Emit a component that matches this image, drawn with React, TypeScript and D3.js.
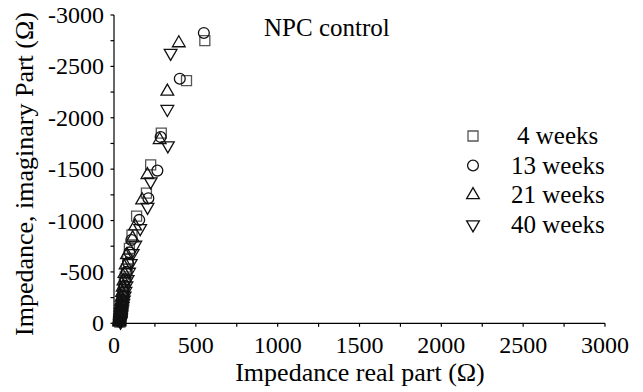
import React from "react";
import * as d3 from "d3";

const xTicks = [0, 500, 1000, 1500, 2000, 2500, 3000];
const xTickLabels = ["0", "500", "1000", "1500", "2000", "2500", "3000"];
const xMinorTicks = [250, 750, 1250, 1750, 2250, 2750];
const yTicks = [0, -500, -1000, -1500, -2000, -2500, -3000];
const yTickLabels = ["0", "-500", "-1000", "-1500", "-2000", "-2500", "-3000"];
const yMinorTicks = [-250, -750, -1250, -1750, -2250, -2750];

const seriesNames = ["4 weeks", "13 weeks", "21 weeks", "40 weeks"];

const weeks4Re = [555, 443, 289, 224, 198, 138, 110, 94, 84, 76, 69, 63, 58, 54, 51, 48, 46, 44, 42, 41, 40, 39, 38, 38, 37, 37, 36, 36];
const weeks4Im = [-2750, -2361, -1851, -1541, -1266, -1042, -860, -730, -622, -530, -452, -386, -330, -282, -240, -204, -173, -146, -123, -103, -86, -71, -58, -46, -36, -27, -19, -12];

const weeks13Re = [549, 402, 285, 265, 210, 154, 106, 95, 86, 78, 71, 65, 60, 56, 52, 49, 47, 45, 43, 42, 41, 40, 39, 38, 38, 37, 37];
const weeks13Im = [-2825, -2380, -1812, -1486, -1217, -1006, -811, -690, -588, -501, -427, -364, -310, -264, -225, -191, -162, -137, -116, -97, -81, -67, -54, -43, -33, -24, -16];

const weeks21Re = [396, 326, 279, 204, 172, 129, 114, 79, 71, 64, 58, 53, 49, 46, 43, 41, 39, 38, 37, 36, 35, 35, 34, 34, 33, 33, 33, 32];
const weeks21Im = [-2727, -2256, -1785, -1444, -1198, -945, -828, -665, -566, -482, -410, -349, -297, -252, -214, -182, -154, -130, -110, -92, -77, -63, -51, -41, -32, -24, -17, -11];

const weeks40Re = [346, 326, 329, 224, 205, 160, 130, 114, 102, 92, 83, 76, 70, 65, 60, 57, 54, 51, 49, 47, 46, 44, 43, 42, 41, 41, 40, 40];
const weeks40Im = [-2630, -2084, -1730, -1379, -1131, -925, -763, -682, -584, -500, -428, -366, -313, -268, -229, -196, -167, -142, -121, -102, -86, -72, -59, -48, -38, -29, -21, -14];

const FONT = "Liberation Serif";

type Series = { name: string; re: number[]; im: number[]; shape: string; color: string };

const series: Series[] = [
  { name: seriesNames[0], re: weeks4Re, im: weeks4Im, shape: "square", color: "#555" },
  { name: seriesNames[1], re: weeks13Re, im: weeks13Im, shape: "circle", color: "#111" },
  { name: seriesNames[2], re: weeks21Re, im: weeks21Im, shape: "up", color: "#111" },
  { name: seriesNames[3], re: weeks40Re, im: weeks40Im, shape: "down", color: "#111" },
];

function markerPath(shape: string): string {
  if (shape === "square") return d3.symbol(d3.symbolSquare, 100)() as string;
  if (shape === "circle") return d3.symbol(d3.symbolCircle, 92)() as string;
  return d3.symbol(d3.symbolTriangle, 70)() as string;
}

const tickStyle: React.CSSProperties = { fontFamily: FONT, fontSize: 24 };
const titleStyle: React.CSSProperties = { fontFamily: FONT, fontSize: 26 };
const noteStyle: React.CSSProperties = { fontFamily: FONT, fontSize: 25 };

export default function App() {
  const W = 643;
  const H = 392;
  const x = d3.scaleLinear().domain([0, 3000]).range([114, 605]);
  const y = d3.scaleLinear().domain([0, -3000]).range([323.3, 15]);
  const x0 = x(0);
  const y0 = y(0);
  const tickLen = 3.5;

  const legendX = 473;
  const legendTextX = 511;
  const legendY0 = 144;
  const legendDy = 29.5;

  return (
    <svg
      width={W}
      height={H}
      style={{ position: "absolute", left: 0, top: 0, background: "#fff" }}
    >
      <rect x={0} y={0} width={W} height={H} fill="#fff" />
      <line x1={x0} y1={y0} x2={x(3000)} y2={y0} stroke="#000" strokeWidth={1.2} />
      <line x1={x0} y1={y0} x2={x0} y2={y(-3000)} stroke="#000" strokeWidth={1.2} />
      {xTicks.map((t, i) => (
        <g key={"xt" + i}>
          <line x1={x(t)} x2={x(t)} y1={y0} y2={y0 + tickLen} stroke="#000" strokeWidth={1.2} />
          <text x={x(t)} y={353} style={tickStyle} textAnchor="middle" fill="#000">
            {xTickLabels[i]}
          </text>
        </g>
      ))}
      {xMinorTicks.map((t, i) => (
        <line key={"xm" + i} x1={x(t)} x2={x(t)} y1={y0} y2={y0 + tickLen} stroke="#000" strokeWidth={1.2} />
      ))}
      {yTicks.map((t, i) => (
        <g key={"yt" + i}>
          <line x1={x0 - tickLen} x2={x0} y1={y(t)} y2={y(t)} stroke="#000" strokeWidth={1.2} />
          <text x={104} y={y(t) + 8} style={tickStyle} textAnchor="end" fill="#000">
            {yTickLabels[i]}
          </text>
        </g>
      ))}
      {yMinorTicks.map((t, i) => (
        <line key={"ym" + i} x1={x0 - tickLen} x2={x0} y1={y(t)} y2={y(t)} stroke="#000" strokeWidth={1.2} />
      ))}
      <text x={360} y={381} style={titleStyle} textAnchor="middle" fill="#000">
        Impedance real part (Ω)
      </text>
      <text
        transform={`translate(33, 174) rotate(-90)`}
        style={titleStyle}
        textAnchor="middle"
        fill="#000"
      >
        Impedance, imaginary Part (Ω)
      </text>
      <text x={264} y={36} style={noteStyle} fill="#000">
        NPC control
      </text>
      {series.map((s, si) => (
        <g key={"s" + si}>
          {s.re.map((r, j) => (
            <path
              key={j}
              d={markerPath(s.shape)}
              transform={`translate(${x(r)},${y(s.im[j])})${s.shape === "down" ? " rotate(180)" : ""}`}
              fill="none"
              stroke={s.color}
              strokeWidth={1.3}
            />
          ))}
        </g>
      ))}
      {series.map((s, si) => (
        <g key={"l" + si}>
          <path
            d={markerPath(s.shape)}
            transform={`translate(${legendX},${legendY0 + si * legendDy - 8})${s.shape === "down" ? " rotate(180)" : ""}`}
            fill="none"
            stroke={s.color}
            strokeWidth={1.3}
          />
          <text
            x={legendTextX + (s.name.length < 8 ? 6 : 0)}
            y={legendY0 + si * legendDy}
            style={noteStyle}
            fill="#000"
          >
            {s.name}
          </text>
        </g>
      ))}
    </svg>
  );
}
